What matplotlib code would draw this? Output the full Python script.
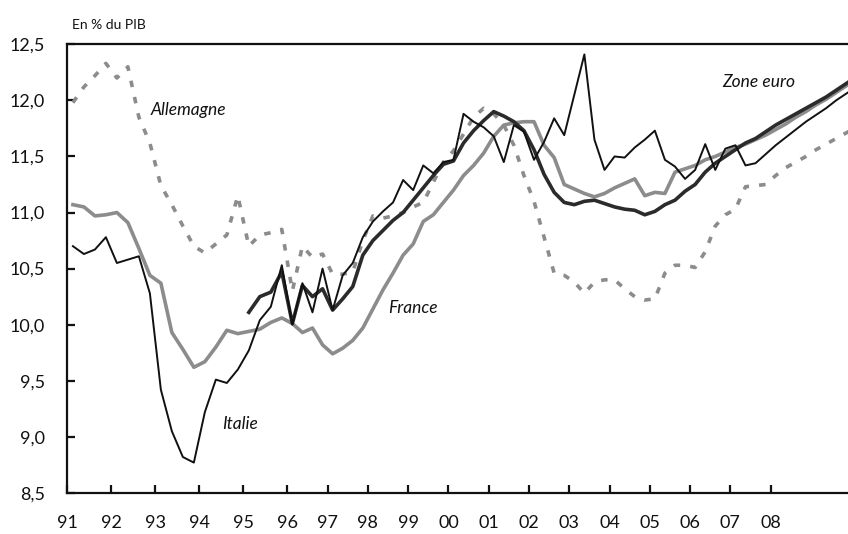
import numpy as np
import matplotlib
matplotlib.use("Agg")
import matplotlib.pyplot as plt

plt.rcParams['font.family'] = ['Lato', 'DejaVu Sans']
plt.rcParams['axes.edgecolor'] = '#111111'
plt.rcParams['axes.linewidth'] = 1.6
plt.rcParams['xtick.direction'] = 'in'
plt.rcParams['ytick.direction'] = 'in'
plt.rcParams['xtick.major.size'] = 6
plt.rcParams['ytick.major.size'] = 6
plt.rcParams['xtick.major.width'] = 1.6
plt.rcParams['ytick.major.width'] = 1.6
plt.rcParams['xtick.major.pad'] = 16
plt.rcParams['ytick.major.pad'] = 16
plt.rcParams['xtick.color'] = '#111111'
plt.rcParams['ytick.color'] = '#111111'
plt.rcParams['xtick.labelsize'] = 13
plt.rcParams['ytick.labelsize'] = 13

# quarterly observations, 1991Q1 .. 2010Q1 (dated at mid-quarter)
quarters = 1991.125 + 0.25 * np.arange(77)

italie = [10.70, 10.63, 10.67, 10.78, 10.55, 10.58, 10.61, 10.28,
          9.42, 9.05, 8.82, 8.77, 9.22, 9.51, 9.48, 9.60,
          9.77, 10.04, 10.16, 10.53, 10.00, 10.37, 10.11, 10.50,
          10.13, 10.44, 10.55, 10.78, 10.92, 11.01, 11.09, 11.29,
          11.20, 11.42, 11.35, 11.45, 11.47, 11.88, 11.81, 11.76,
          11.68, 11.45, 11.78, 11.72, 11.47, 11.63, 11.84, 11.69,
          12.05, 12.41, 11.65, 11.38, 11.50, 11.49, 11.58, 11.65,
          11.73, 11.47, 11.41, 11.30, 11.38, 11.61, 11.38, 11.57,
          11.60, 11.42, 11.44, 11.52, 11.60, 11.67, 11.74, 11.81,
          11.87, 11.93, 12.00, 12.06, 12.12]

france = [11.07, 11.05, 10.97, 10.98, 11.00, 10.91, 10.68, 10.44,
          10.37, 9.93, 9.78, 9.62, 9.67, 9.80, 9.95, 9.92,
          9.94, 9.96, 10.02, 10.06, 10.01, 9.93, 9.97, 9.82,
          9.74, 9.79, 9.86, 9.97, 10.14, 10.31, 10.46, 10.62,
          10.72, 10.92, 10.98, 11.09, 11.20, 11.33, 11.42, 11.53,
          11.68, 11.78, 11.80, 11.81, 11.81, 11.60, 11.49, 11.25,
          11.21, 11.17, 11.14, 11.17, 11.22, 11.26, 11.30, 11.15,
          11.18, 11.17, 11.36, 11.39, 11.42, 11.47, 11.50, 11.54,
          11.58, 11.61, 11.65, 11.69, 11.74, 11.79, 11.85, 11.90,
          11.96, 12.01, 12.07, 12.13, 12.19]

allemagne = [11.98, 12.12, 12.22, 12.33, 12.20, 12.30, 11.85, 11.62,
             11.24, 11.07, 10.88, 10.70, 10.64, 10.72, 10.80, 11.15,
             10.70, 10.80, 10.82, 10.85, 10.30, 10.70, 10.60, 10.63,
             10.45, 10.45, 10.47, 10.75, 10.97, 10.95, 10.97, 11.00,
             11.05, 11.09, 11.27, 11.45, 11.55, 11.70, 11.85, 11.93,
             11.88, 11.78, 11.60, 11.33, 11.10, 10.78, 10.46, 10.44,
             10.38, 10.28, 10.38, 10.40, 10.40, 10.32, 10.25, 10.22,
             10.23, 10.46, 10.53, 10.53, 10.51, 10.65, 10.88, 10.98,
             11.03, 11.23, 11.24, 11.25, 11.33, 11.40, 11.45, 11.50,
             11.56, 11.61, 11.66, 11.71, 11.76]

# zone euro starts in 1995Q1
zone_euro = [10.11, 10.25, 10.29, 10.47, 10.01, 10.35, 10.25, 10.32,
             10.13, 10.23, 10.34, 10.62, 10.75, 10.84, 10.93, 11.00,
             11.11, 11.22, 11.33, 11.43, 11.46, 11.62, 11.73, 11.82,
             11.90, 11.86, 11.81, 11.73, 11.56, 11.34, 11.18, 11.09,
             11.07, 11.10, 11.11, 11.08, 11.05, 11.03, 11.02, 10.98,
             11.01, 11.07, 11.11, 11.19, 11.25, 11.36, 11.44, 11.50,
             11.56, 11.62, 11.66, 11.72, 11.78, 11.83, 11.88, 11.93,
             11.98, 12.03, 12.09, 12.15, 12.21]

years = list(range(1991, 2009))
year_labels = ["%02d" % (y % 100) for y in years]
yticks = [8.5, 9.0, 9.5, 10.0, 10.5, 11.0, 11.5, 12.0, 12.5]


# the source squeezes the years after 1996 a little
def fwd(t):
    t = np.asarray(t, dtype=float)
    return np.where(t <= 1996, t, 1996 + (t - 1996) * 40.3 / 44)


def inv(u):
    u = np.asarray(u, dtype=float)
    return np.where(u <= 1996, u, 1996 + (u - 1996) * 44 / 40.3)


fig = plt.figure(figsize=(8.48, 5.34), dpi=100)
ax = fig.add_axes([0.0795, 0.077, 0.9205, 0.840])
ax.set_xscale('function', functions=(fwd, inv))

grey = '#8c8c8c'
ax.plot(quarters, allemagne, color=grey, lw=2.6, ls=(0, (1.8, 2.8)), zorder=2)
ax.plot(quarters, france, color=grey, lw=2.6, zorder=3)
ax.plot(quarters[16:], zone_euro, color='#2b2b2b', lw=2.6, zorder=4)
ax.plot(quarters, italie, color='#111111', lw=1.4, zorder=5)

lab = dict(fontsize=12.5, style='italic', color='#111111')
ax.text(1992.9, 11.91, 'Allemagne', va='center', **lab)
ax.text(1994.52, 9.11, 'Italie', va='center', **lab)
ax.text(1998.5, 10.15, 'France', va='center', **lab)
ax.text(2006.79, 12.16, 'Zone euro', va='center', **lab)

ax.set_xlim(1991, 2009.92)
ax.set_ylim(8.5, 12.5)
ax.set_xticks(years)
ax.set_xticklabels(year_labels)
ax.set_yticks(yticks)
ax.set_yticklabels([("%.1f" % v).replace('.', ',') for v in yticks])
ax.minorticks_off()
ax.spines['right'].set_visible(False)

fig.text(0.085, 0.953, 'En % du PIB', fontsize=10, color='#111111',
         va='center')

fig.savefig('out.png', dpi=100)
